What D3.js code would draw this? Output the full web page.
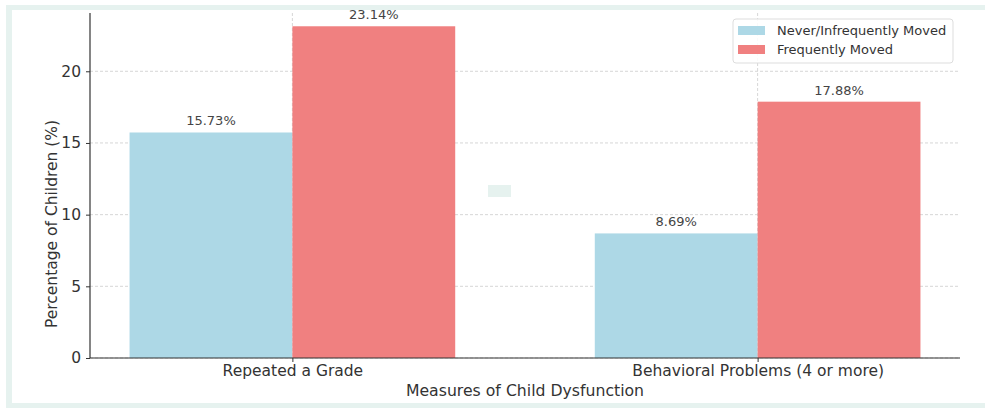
<!DOCTYPE html>
<html>
<head>
<meta charset="utf-8">
<script src="https://cdn.jsdelivr.net/npm/d3@7"></script>
<style>
  html, body { margin: 0; padding: 0; background: #ffffff; }
  svg { display: block; font-family: "DejaVu Sans", sans-serif; }
</style>
</head>
<body>
<svg id="chart" width="985" height="408"></svg>
<script>
// Categories and series values (percent of children)
const categories = ["Repeated a Grade", "Behavioral Problems (4 or more)"];
const seriesNames = ["Never/Infrequently Moved", "Frequently Moved"];
const neverMoved = [15.73, 8.69];
const frequentlyMoved = [23.14, 17.88];
const yTicks = [0, 5, 10, 15, 20];
const colors = ["#add8e6", "#f08080"];

const svg = d3.select("#chart");

// Light frame around the figure
svg.append("rect").attr("x", 6).attr("y", 5).attr("width", 1000).attr("height", 420).attr("fill", "#e6f2ef");
svg.append("rect").attr("x", 12).attr("y", 10).attr("width", 1000).attr("height", 393).attr("fill", "#ffffff");

const plot = { left: 90, right: 960, top: 13, bottom: 358 };
const barW = 0.35;

// Continuous x in category units, with matplotlib-style margins
const x = d3.scaleLinear().domain([-0.435, 1.435]).range([plot.left, plot.right]);
const y = d3.scaleLinear().domain([0, d3.max(frequentlyMoved) * 1.04]).range([plot.bottom, plot.top]);

const g = svg.append("g");

// Grid lines
g.selectAll(".hgrid").data(yTicks).enter().append("line")
  .attr("x1", plot.left).attr("x2", plot.right)
  .attr("y1", d => y(d)).attr("y2", d => y(d))
  .attr("stroke", "#cccccc").attr("stroke-width", 0.8).attr("stroke-dasharray", "3,2");
g.selectAll(".vgrid").data(categories).enter().append("line")
  .attr("x1", (d, i) => x(i)).attr("x2", (d, i) => x(i))
  .attr("y1", plot.top).attr("y2", plot.bottom)
  .attr("stroke", "#cccccc").attr("stroke-width", 0.8).attr("stroke-dasharray", "3,2");

// Bars
const series = [neverMoved, frequentlyMoved];
series.forEach((vals, s) => {
  const offset = s === 0 ? -barW / 2 : barW / 2;
  g.selectAll(".bar" + s).data(vals).enter().append("rect")
    .attr("x", (d, i) => x(i + offset - barW / 2))
    .attr("width", (d, i) => x(i + offset + barW / 2) - x(i + offset - barW / 2))
    .attr("y", d => y(d))
    .attr("height", d => y(0) - y(d))
    .attr("fill", colors[s]);
  g.selectAll(".lbl" + s).data(vals).enter().append("text")
    .attr("x", (d, i) => x(i + offset))
    .attr("y", d => y(d) - 7)
    .attr("text-anchor", "middle")
    .attr("font-size", 13)
    .attr("fill", "#444444")
    .text(d => d.toFixed(2) + "%");
});

// Small decorative patch
svg.append("rect").attr("x", 488).attr("y", 185).attr("width", 23).attr("height", 12).attr("fill", "#e6f2ef");

// Y axis
const yAxis = d3.axisLeft(y).tickValues(yTicks).tickSize(4).tickPadding(5);
const ya = svg.append("g").attr("transform", `translate(${plot.left},0)`).call(yAxis);
ya.select(".domain").attr("stroke", "#333").attr("stroke-width", 1.2).attr("d", `M0,${plot.bottom}V${plot.top}`);
ya.selectAll(".tick line").attr("stroke", "#333");
ya.selectAll(".tick text").attr("font-size", 15.5).attr("fill", "#333").attr("font-family", "DejaVu Sans");

// X axis
const xAxis = d3.axisBottom(x).tickValues([0, 1]).tickFormat(i => categories[i]).tickSize(4).tickPadding(3);
const xa = svg.append("g").attr("transform", `translate(0,${plot.bottom})`).call(xAxis);
xa.select(".domain").attr("stroke", "#333").attr("stroke-width", 1.2).attr("d", `M${plot.left},0H${plot.right}`);
xa.selectAll(".tick line").attr("stroke", "#333");
xa.selectAll(".tick text").attr("font-size", 15.5).attr("fill", "#333").attr("font-family", "DejaVu Sans");

// Axis titles
svg.append("text").attr("x", 525).attr("y", 396)
  .attr("text-anchor", "middle").attr("font-size", 15.7).attr("fill", "#333")
  .text("Measures of Child Dysfunction");
svg.append("text").attr("transform", "translate(57,224) rotate(-90)")
  .attr("text-anchor", "middle").attr("font-size", 15.5).attr("fill", "#333")
  .text("Percentage of Children (%)");

// Legend
const lg = svg.append("g").attr("transform", "translate(733,19)");
lg.append("rect").attr("width", 220).attr("height", 44).attr("rx", 3)
  .attr("fill", "rgba(255,255,255,0.85)").attr("stroke", "#dddddd");
seriesNames.forEach((name, i) => {
  lg.append("rect").attr("x", 5).attr("y", 7 + i * 19).attr("width", 27).attr("height", 9).attr("fill", colors[i]);
  lg.append("text").attr("x", 44).attr("y", 16 + i * 19).attr("font-size", 13).attr("fill", "#333").text(name);
});
</script>
</body>
</html>
